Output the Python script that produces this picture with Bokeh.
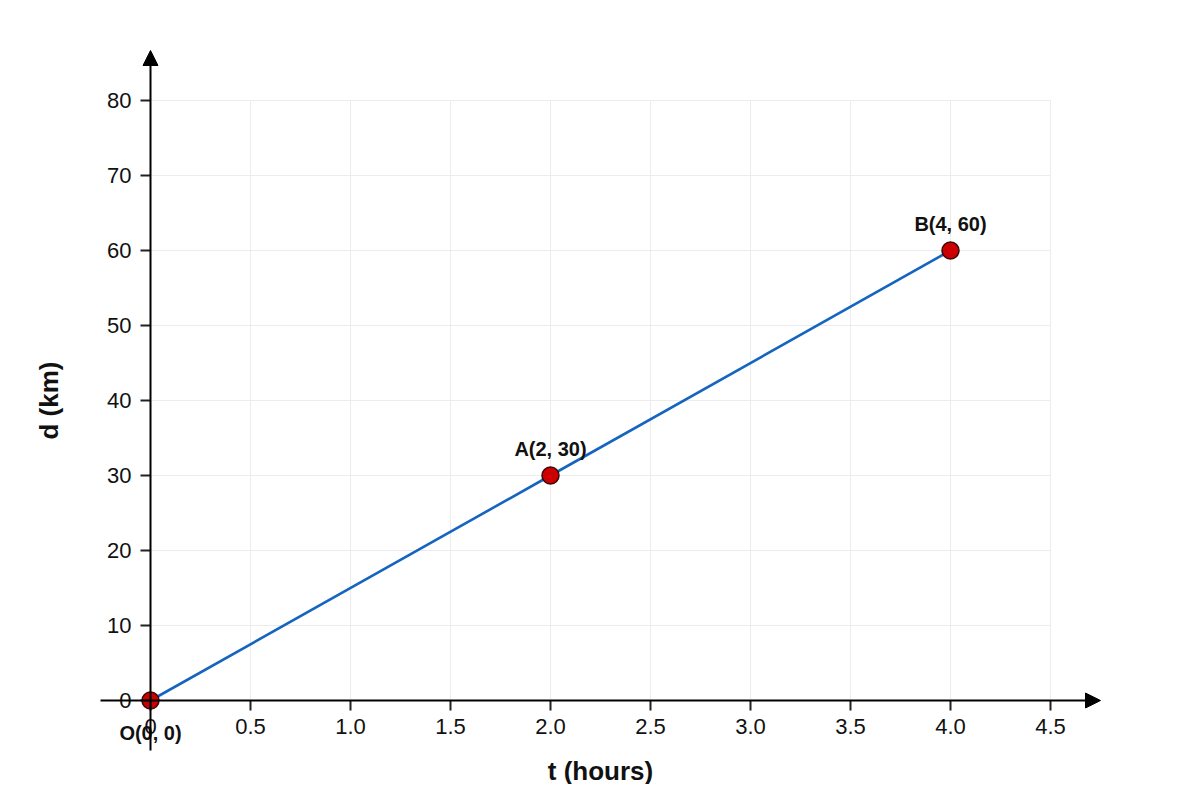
import math
from bokeh.plotting import figure
from bokeh.models import (Range1d, LinearAxis, FixedTicker, Arrow, NormalHead,
                          ColumnDataSource, Label)
from bokeh.core.properties import value
from bokeh.embed import file_html
from bokeh.resources import INLINE

# ---- data ----
t_hours = [0, 2, 4]
d_km = [0, 30, 60]
point_labels = ["O(0, 0)", "A(2, 30)", "B(4, 60)"]

x_ticks = [0, 0.5, 1.0, 1.5, 2.0, 2.5, 3.0, 3.5, 4.0, 4.5]
x_tick_labels = ["0", "0.5", "1.0", "1.5", "2.0", "2.5", "3.0", "3.5", "4.0", "4.5"]
y_ticks = [0, 10, 20, 30, 40, 50, 60, 70, 80]
y_tick_labels = ["0", "10", "20", "30", "40", "50", "60", "70", "80"]

x_title = "t (hours)"
y_title = "d (km)"

# ---- layout ----
W, H = 1184, 784
px_per_x = 200.0
px_per_y = 7.5
x0_pix, y0_pix = 150.0, 700.0   # figure pixel of the origin
x_min = -x0_pix / px_per_x
x_max = (W - x0_pix) / px_per_x
y_max = y0_pix / px_per_y
y_min = -(H - y0_pix) / px_per_y

FONT = "Liberation Sans"

p = figure(width=W, height=H, output_backend="svg", toolbar_location=None,
           x_range=Range1d(x_min, x_max), y_range=Range1d(y_min, y_max),
           x_axis_type=None, y_axis_type=None, min_border=0,
           min_border_left=0, min_border_right=0, min_border_top=0, min_border_bottom=0)
p.outline_line_color = None
p.background_fill_color = "white"
p.border_fill_color = "white"
p.xgrid.visible = False
p.ygrid.visible = False

# grid lines (bounded to data region)
gx0, gx1 = x_ticks[0], x_ticks[-1]
gy0, gy1 = y_ticks[0], y_ticks[-1]
p.segment(x0=x_ticks, y0=[gy0] * len(x_ticks), x1=x_ticks, y1=[gy1] * len(x_ticks),
          line_color="#ececec", line_width=1)
p.segment(x0=[gx0] * len(y_ticks), y0=y_ticks, x1=[gx1] * len(y_ticks), y1=y_ticks,
          line_color="#ececec", line_width=1)

# axes with ticks and labels at the origin
xaxis = LinearAxis(fixed_location=0, ticker=FixedTicker(ticks=x_ticks),
                   major_label_overrides={k: v for k, v in zip(x_ticks, x_tick_labels)})
yaxis = LinearAxis(fixed_location=0, ticker=FixedTicker(ticks=y_ticks),
                   major_label_overrides={k: v for k, v in zip(y_ticks, y_tick_labels)})
for ax in (xaxis, yaxis):
    ax.axis_line_color = None
    ax.major_tick_line_color = "#222222"
    ax.major_tick_line_width = 2
    ax.major_tick_out = 10
    ax.major_tick_in = 0
    ax.minor_tick_line_color = None
    ax.major_label_text_font = FONT
    ax.major_label_text_font_size = "22px"
    ax.major_label_text_color = "#111111"
xaxis.major_label_standoff = 8
yaxis.major_label_standoff = 9
p.add_layout(xaxis, "below")
p.add_layout(yaxis, "left")

# axis lines with arrowheads
x_axis_ext = (-50 / px_per_x, 950 / px_per_x)
y_axis_ext = (-50 / px_per_y, 650 / px_per_y)
p.add_layout(Arrow(x_start=x_axis_ext[0], y_start=0, x_end=x_axis_ext[1], y_end=0,
                   line_color="black", line_width=2,
                   end=NormalHead(size=15, fill_color="black", line_color="black", line_width=1)))
p.add_layout(Arrow(x_start=0, y_start=y_axis_ext[0], x_end=0, y_end=y_axis_ext[1],
                   line_color="black", line_width=2,
                   end=NormalHead(size=15, fill_color="black", line_color="black", line_width=1)))

# data line and points
src = ColumnDataSource(dict(t=t_hours, d=d_km, lab=point_labels,
                            yoff=[32, -27, -27]))
p.line("t", "d", source=src, line_color="#1565c0", line_width=2.6)
p.scatter("t", "d", source=src, size=17, fill_color="#cc0000",
          line_color="#3a0a0a", line_width=1.5)
p.text("t", "d", text="lab", source=src, y_offset="yoff",
       text_align="center", text_baseline="middle",
       text_font=value(FONT), text_font_style="bold",
       text_font_size="20px", text_color="#111111")

# axis titles
p.add_layout(Label(x=(x_ticks[0] + x_ticks[-1]) / 2, y=-70 / px_per_y, text=x_title,
                   text_align="center", text_baseline="middle",
                   text_font=FONT, text_font_style="bold", text_font_size="26px",
                   text_color="#111111"))
p.add_layout(Label(x=-102 / px_per_x, y=(y_ticks[0] + y_ticks[-1]) / 2, text=y_title,
                   angle=math.pi / 2, text_align="center", text_baseline="middle",
                   text_font=FONT, text_font_style="bold", text_font_size="26px",
                   text_color="#111111"))

open("out.html", "w").write(file_html(p, INLINE))
